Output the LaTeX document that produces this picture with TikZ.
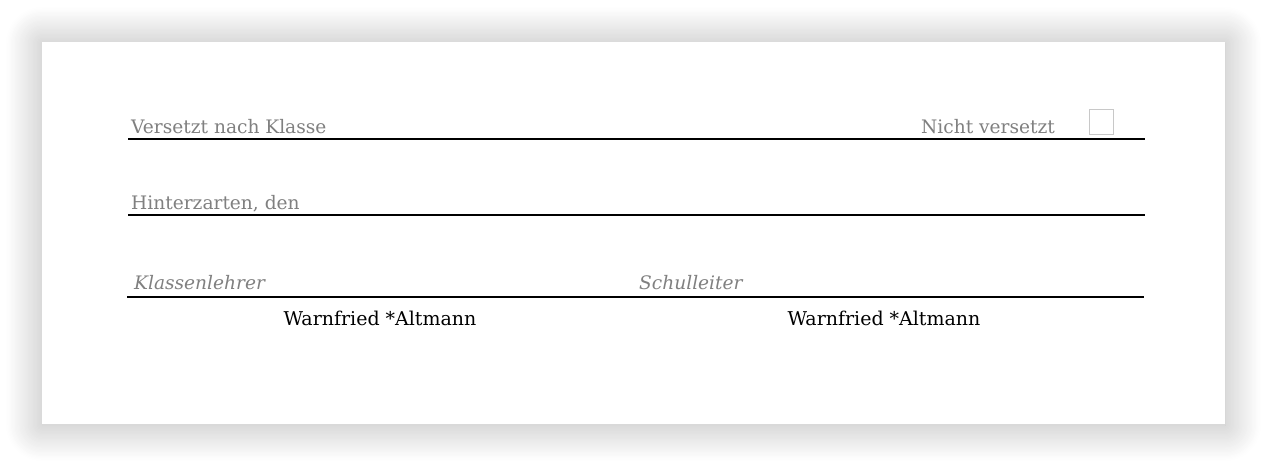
\documentclass[tikz,border=0pt]{standalone}
\usepackage{fontspec}
\usepackage{xcolor}
\usetikzlibrary{shadows.blur}
\setmainfont{DejaVu Serif}
\definecolor{labelgray}{RGB}{128, 128, 128}
\definecolor{boxgray}{RGB}{200, 200, 200}

\tikzset{
  label text/.style={anchor=base west, inner sep=0pt, text=labelgray, font=\fontsize{18.6}{22}\selectfont},
  name text/.style={anchor=base, inner sep=0pt, font=\fontsize{19}{22}\selectfont},
  rule/.style={line width=1.5pt}
}

\begin{document}
\begin{tikzpicture}[x=1pt, y=-1pt]
            \useasboundingbox (0,0) rectangle (1267,467);
            \fill[white, blur shadow={shadow xshift=0pt, shadow yshift=-1pt, shadow blur radius=36pt, shadow blur steps=30, shadow opacity=30}] (42,42) rectangle (1225,424);
            \node[label text] (versetzt) at (131,133) {Versetzt nach Klasse};
            \node[label text] (nicht) at (921,133) {Nicht versetzt};
            \draw[boxgray, line width=1pt] (1089.5,109.5) rectangle (1113,134) node[midway] (box) {};
            \draw[rule] (128,139) -- (1145,139);
            \node[label text] (ort) at (131,209) {Hinterzarten, den};
            \draw[rule] (128,215) -- (1145,215);
            \node[label text, font=\fontsize{18.6}{22}\selectfont\itshape] (lehrer) at (134,289) {Klassenlehrer};
            \node[label text, font=\fontsize{18.6}{22}\selectfont\itshape] (leiter) at (639,289) {Schulleiter};
            \draw[rule] (127,297) -- (1144,297);
            \node[name text] (lehrername) at (380,325) {Warnfried *Altmann};
            \node[name text] (leitername) at (884,325) {Warnfried *Altmann};
        \end{tikzpicture}
\end{document}
